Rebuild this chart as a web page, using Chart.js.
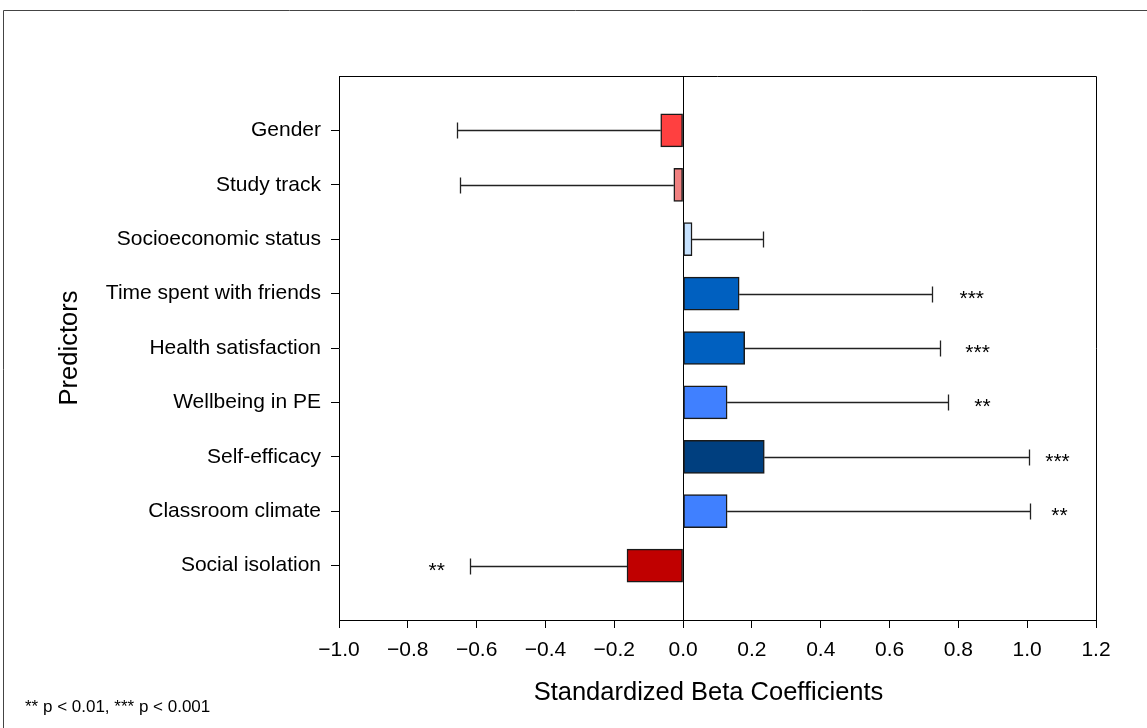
<!DOCTYPE html>
<html>
<head>
<meta charset="utf-8">
<script src="https://cdn.jsdelivr.net/npm/chart.js@4.4.1/dist/chart.umd.min.js"></script>
<style>
  html, body { margin: 0; padding: 0; background: #fff; }
  #wrap { width: 1147px; height: 728px; position: relative; }
</style>
</head>
<body>
<div id="wrap"><canvas id="c" width="1147" height="728"></canvas></div>
<script>
// ---- Data ----
const categories = ['Gender', 'Study track', 'Socioeconomic status', 'Time spent with friends',
  'Health satisfaction', 'Wellbeing in PE', 'Self-efficacy', 'Classroom climate', 'Social isolation'];
const betas = [-0.065, -0.027, 0.026, 0.163, 0.179, 0.128, 0.236, 0.128, -0.163];
const errorEnds = [-0.657, -0.649, 0.232, 0.723, 0.746, 0.769, 1.005, 1.007, -0.619];
const significance = ['', '', '', '***', '***', '**', '***', '**', '**'];
const starPositions = [null, null, null, 0.839, 0.856, 0.870, 1.088, 1.094, -0.716];
const barColors = ['#FF4040', '#F08080', '#C6E2FF', '#0060C0', '#0060C0', '#4080FF', '#003F7F', '#4080FF', '#C00000'];
const xMin = -1.0, xMax = 1.2, xStep = 0.2;
const xTitle = 'Standardized Beta Coefficients';
const yTitle = 'Predictors';
const footnote = '** p < 0.01, *** p < 0.001';

const FONT = '"Liberation Sans", Arial, Helvetica, sans-serif';
const labels = [''].concat(categories, ['']);
const values = [null].concat(betas, [null]);
const colors = ['#fff'].concat(barColors, ['#fff']);

const overlay = {
  id: 'overlay',
  afterDraw(chart) {
    const ctx = chart.ctx;
    const a = chart.chartArea;
    const xs = chart.scales.x;
    const meta = chart.getDatasetMeta(0);
    ctx.save();
    // outer frame
    ctx.strokeStyle = '#444';
    ctx.lineWidth = 1;
    ctx.beginPath();
    ctx.moveTo(3.5, 740); ctx.lineTo(3.5, 10.5); ctx.lineTo(1160, 10.5);
    ctx.stroke();
    // plot box top & right
    ctx.strokeStyle = '#000';
    ctx.beginPath();
    ctx.moveTo(a.left, a.top + 0.5); ctx.lineTo(a.right + 0.5, a.top + 0.5); ctx.lineTo(a.right + 0.5, a.bottom);
    ctx.stroke();
    // error bars
    ctx.strokeStyle = '#222';
    ctx.lineWidth = 1.3;
    for (let i = 0; i < categories.length; i++) {
      const el = meta.data[i + 1];
      const y = Math.round(el.y) + 0.5;
      const x0 = xs.getPixelForValue(betas[i]);
      const x1 = Math.round(xs.getPixelForValue(errorEnds[i])) + 0.5;
      ctx.beginPath();
      ctx.moveTo(x0, y); ctx.lineTo(x1, y);
      ctx.moveTo(x1, y - 8); ctx.lineTo(x1, y + 8);
      ctx.stroke();
    }
    // significance stars
    ctx.fillStyle = '#000';
    ctx.font = '21px ' + FONT;
    ctx.textAlign = 'center';
    ctx.textBaseline = 'alphabetic';
    for (let i = 0; i < categories.length; i++) {
      if (!significance[i]) continue;
      const el = meta.data[i + 1];
      ctx.fillText(significance[i], xs.getPixelForValue(starPositions[i]), el.y + 11);
    }
    // axis titles
    ctx.font = '25.5px ' + FONT;
    ctx.fillText(xTitle, (a.left + a.right) / 2 - 9, 700);
    ctx.save();
    ctx.translate(77, (a.top + a.bottom) / 2);
    ctx.rotate(-Math.PI / 2);
    ctx.fillText(yTitle, 0, 0);
    ctx.restore();
    // footnote
    ctx.font = '17px ' + FONT;
    ctx.textAlign = 'left';
    ctx.fillText(footnote, 25, 712);
    ctx.restore();
  }
};

new Chart(document.getElementById('c'), {
  type: 'bar',
  data: {
    labels: labels,
    datasets: [{
      data: values,
      backgroundColor: colors,
      borderColor: '#1a1a1a',
      borderWidth: 1.5,
      borderSkipped: false,
      barThickness: 33
    }]
  },
  options: {
    indexAxis: 'y',
    responsive: false,
    animation: false,
    devicePixelRatio: 1,
    layout: { padding: { top: 76, right: 51, left: 0, bottom: 0 } },
    plugins: { legend: { display: false }, tooltip: { enabled: false } },
    scales: {
      x: {
        type: 'linear',
        min: xMin, max: xMax,
        afterBuildTicks(scale) {
          const t = [];
          for (let k = 0; k <= Math.round((xMax - xMin) / xStep); k++) t.push({ value: +(xMin + k * xStep).toFixed(10) });
          scale.ticks = t;
        },
        afterFit(scale) { scale.height = 108; },
        border: { display: true, color: '#000', width: 1 },
        grid: {
          color: c => (c.tick && Math.abs(c.tick.value) < 1e-9) ? '#000' : 'rgba(0,0,0,0)',
          lineWidth: 1,
          drawTicks: true,
          tickLength: 8,
          tickColor: '#000'
        },
        ticks: {
          color: '#000',
          font: { family: FONT, size: 21 },
          padding: 10,
          maxRotation: 0,
          autoSkip: false,
          callback: v => {
            if (Math.abs(v) < 1e-9) return '0.0';
            return Number(v).toFixed(1).replace('-', '\u2212');
          }
        }
      },
      y: {
        type: 'category',
        offset: false,
        afterFit(scale) { scale.width = 339; },
        border: { display: true, color: '#000', width: 1 },
        grid: {
          offset: false,
          drawOnChartArea: false,
          drawTicks: true,
          tickLength: 8,
          tickColor: c => (c.index === 0 || c.index === labels.length - 1) ? 'rgba(0,0,0,0)' : '#000'
        },
        ticks: {
          color: '#000',
          font: { family: FONT, size: 21 },
          padding: 10,
          autoSkip: false
        }
      }
    }
  },
  plugins: [overlay]
});
</script>
</body>
</html>
